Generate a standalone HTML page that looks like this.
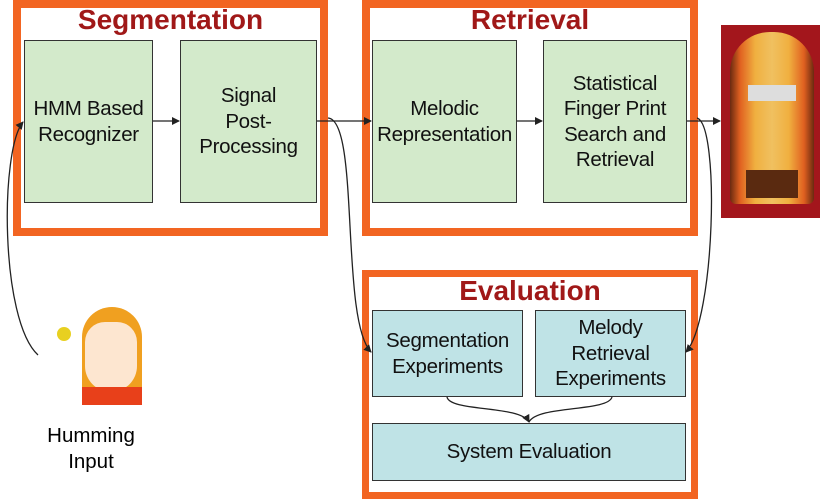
<!DOCTYPE html>
<html><head><meta charset="utf-8"><style>
body{margin:0;width:820px;height:501px;background:#fff;position:relative;overflow:hidden;font-family:"Liberation Sans",sans-serif}
.fr{position:absolute;border:8px solid #f26522;box-sizing:border-box}
.t{position:absolute;font-weight:bold;color:#a01818;font-size:28px;text-align:center}
.b{position:absolute;box-sizing:border-box;border:1.5px solid #333;display:flex;align-items:center;justify-content:center;text-align:center;font-size:20.5px;line-height:25.5px;color:#111;letter-spacing:-0.3px}
.g{background:#d3eacb}.c{background:#bfe3e6}
</style></head><body>
<div class="fr" style="left:13px;top:0;width:315px;height:236px"></div>
<div class="fr" style="left:362px;top:0;width:336px;height:236px"></div>
<div class="fr" style="left:362px;top:270px;width:336px;height:229px;border-width:7px"></div>
<div class="t" style="left:13px;width:315px;top:4px">Segmentation</div>
<div class="t" style="left:362px;width:336px;top:4px">Retrieval</div>
<div class="t" style="left:362px;width:336px;top:275px">Evaluation</div>
<div class="b g" style="left:24px;top:40px;width:129px;height:163px">HMM Based<br>Recognizer</div>
<div class="b g" style="left:180px;top:40px;width:137px;height:163px">Signal<br>Post-<br>Processing</div>
<div class="b g" style="left:372px;top:40px;width:145px;height:163px">Melodic<br>Representation</div>
<div class="b g" style="left:543px;top:40px;width:144px;height:163px">Statistical<br>Finger Print<br>Search and<br>Retrieval</div>
<div class="b c" style="left:372px;top:310px;width:151px;height:87px">Segmentation<br>Experiments</div>
<div class="b c" style="left:535px;top:310px;width:151px;height:87px">Melody<br>Retrieval<br>Experiments</div>
<div class="b c" style="left:372px;top:423px;width:314px;height:58px">System Evaluation</div>
<div style="position:absolute;left:721px;top:25px;width:99px;height:193px;background:#a3161c"></div>
<div style="position:absolute;left:730px;top:32px;width:84px;height:172px;border-radius:40px 40px 6px 6px;background:linear-gradient(90deg,#6a2a10,#e06020 12%,#f0b040 30%,#f0c060 50%,#f0b040 70%,#e06020 88%,#6a2a10)"></div>
<div style="position:absolute;left:748px;top:85px;width:48px;height:16px;background:#ddd"></div>
<div style="position:absolute;left:746px;top:170px;width:52px;height:28px;background:#5a2a10"></div>
<div style="position:absolute;left:37px;top:307px;width:118px;height:98px">
<div style="position:absolute;left:45px;top:0;width:60px;height:98px;background:#f0a020;border-radius:30px 30px 0 0"></div>
<div style="position:absolute;left:48px;top:15px;width:52px;height:70px;background:#fde6d0;border-radius:20px 20px 26px 26px"></div>
<div style="position:absolute;left:45px;top:80px;width:60px;height:18px;background:#e8401a"></div>
<div style="position:absolute;left:20px;top:20px;width:14px;height:14px;background:#e8d020;border-radius:50%"></div>
</div>
<div style="position:absolute;left:0;width:182px;top:423px;text-align:center;font-size:20.5px;line-height:26px">Humming<br>Input</div>
<svg width="820" height="501" style="position:absolute;left:0;top:0" fill="none" stroke="#222" stroke-width="1.3">
<defs><marker id="a" markerWidth="8" markerHeight="8" refX="7" refY="4" orient="auto" markerUnits="userSpaceOnUse"><path d="M0,0L8,4L0,8z" fill="#222" stroke="none"/></marker></defs>
<path d="M153,121H179" marker-end="url(#a)"/>
<path d="M317,121H371" marker-end="url(#a)"/>
<path d="M517,121H542" marker-end="url(#a)"/>
<path d="M687,121H720" marker-end="url(#a)"/>
<path d="M38,355C0,320 0,150 23,122" marker-end="url(#a)"/>
<path d="M328,118C360,120 340,320 371,352" marker-end="url(#a)"/>
<path d="M697,118C720,125 715,320 686,352" marker-end="url(#a)"/>
<path d="M447,397C450,412 520,405 529,422" marker-end="url(#a)"/>
<path d="M612,397C608,412 538,405 529,422"/>
</svg>
</body></html>
